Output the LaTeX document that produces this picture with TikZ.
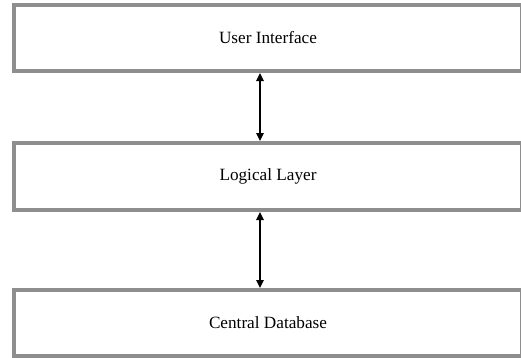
\documentclass[tikz,border=0pt]{standalone}
\usepackage{fontspec}
\setmainfont{Liberation Serif}
\usetikzlibrary{arrows.meta}
\definecolor{layerborder}{HTML}{8E8E8E}
\tikzset{
  layer/.style={draw=layerborder, line width=4pt, fill=white, rectangle,
    minimum width=508pt, inner sep=0pt, font=\fontsize{17.2}{19}\selectfont},
  link/.style={line width=1.4pt, {Triangle[length=8pt,width=7.5pt]}-{Triangle[length=8pt,width=7.5pt]}}
}
\begin{document}
\begin{tikzpicture}[x=1pt,y=1pt]
  \useasboundingbox[fill=white] (0,0) rectangle (521,-357);
  \node[layer, minimum height=66pt] (ui) at (268,-38) {User Interface};
  \node[layer, minimum height=67pt] (logic) at (268,-176.5) {Logical Layer};
  \node[layer, minimum height=66pt] (db) at (268,-323) {Central Database};
  \draw[link] ([xshift=-8pt]ui.south) -- ([xshift=-8pt]logic.north);
  \draw[link] ([xshift=-8pt]logic.south) -- ([xshift=-8pt]db.north);
\end{tikzpicture}
\end{document}
